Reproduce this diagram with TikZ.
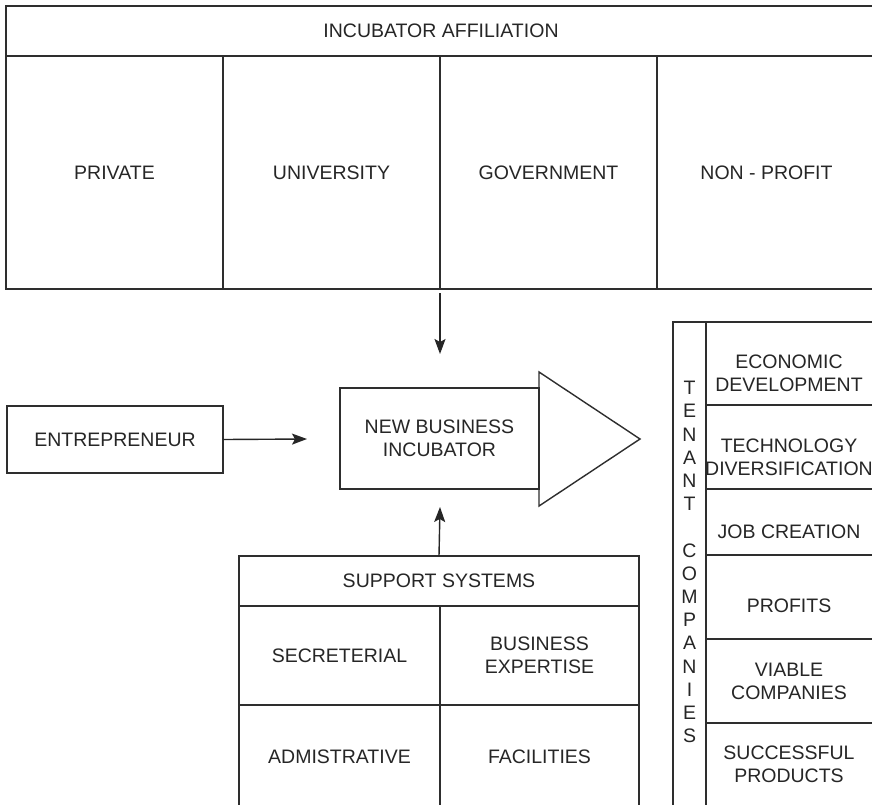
\documentclass[tikz,border=0pt]{standalone}
\usepackage{fontspec}
\setmainfont{Liberation Sans}
\usetikzlibrary{arrows.meta}
\newcommand{\lblfont}{\fontsize{19.5}{23.2}\selectfont}
% \cellbox{name}{x1}{y1}{x2}{y2}{text}: a framed cell given by its corners
\newcommand{\cellbox}[6]{%
  \node[cell, minimum width={(#4-#2)*1pt}, minimum height={(#5-#3)*1pt}]
    (#1) at ({(#2+#4)/2},{(#3+#5)/2}) {#6};}
\begin{document}
\begin{tikzpicture}[x=1pt,y=-1pt,
  line join=miter,
  cell/.style={draw=black!82, line width=1.4pt, rectangle, inner sep=0pt,
    outer sep=0pt, align=center, font=\lblfont, text=black!85},
  txt/.style={inner sep=0pt, align=center, font=\lblfont, text=black!85},
  arr/.style={draw=black!85, line width=1.4pt,
    -{Stealth[length=15pt,width=11pt,inset=3pt]}}]
\useasboundingbox (0,0) rectangle (872,804);
\fill[white] (0,0) rectangle (872,804);

% affiliation table
\cellbox{aff}{6}{6}{876}{56}{INCUBATOR AFFILIATION}
\cellbox{priv}{6}{56}{223}{289}{PRIVATE}
\cellbox{univ}{223}{56}{440}{289}{UNIVERSITY}
\cellbox{gov}{440}{56}{657}{289}{GOVERNMENT}
\cellbox{nonp}{657}{56}{876}{289}{NON - PROFIT}

% entrepreneur
\cellbox{ent}{7}{406}{223}{473}{ENTREPRENEUR}

% incubator: box with an arrow head
\cellbox{inc}{340}{388}{539}{489}{NEW BUSINESS\\INCUBATOR}
\draw[draw=black!82, line width=1.4pt, line join=miter]
  (inc.north east) -- (539,372) -- (640,439) -- (539,506) -- (inc.south east);

% support systems table
\cellbox{sup}{239}{556}{639}{606}{SUPPORT SYSTEMS}
\cellbox{sec}{239}{606}{440}{705}{SECRETERIAL}
\cellbox{bus}{440}{606}{639}{705}{BUSINESS\\EXPERTISE}
\cellbox{adm}{239}{705}{440}{808}{ADMISTRATIVE}
\cellbox{fac}{440}{705}{639}{808}{FACILITIES}

% tenant companies column
\cellbox{ten}{673}{322}{706}{808}{}
\node[txt] (tenT) at (689.5,562)
  {T\\E\\N\\A\\N\\T\\[23.2pt]C\\O\\M\\P\\A\\N\\I\\E\\S};
\cellbox{r1}{706}{322}{876}{405}{}
\cellbox{r2}{706}{405}{876}{489}{}
\cellbox{r3}{706}{489}{876}{555}{}
\cellbox{r4}{706}{555}{876}{639}{}
\cellbox{r5}{706}{639}{876}{723}{}
\cellbox{r6}{706}{723}{876}{808}{}
\node[txt] (r1T) at (789,373) {ECONOMIC\\DEVELOPMENT};
\node[txt] (r2T) at (789,457) {TECHNOLOGY\\DIVERSIFICATION};
\node[txt] (r3T) at (789,532) {JOB CREATION};
\node[txt] (r4T) at (789,606) {PROFITS};
\node[txt] (r5T) at (789,681) {VIABLE\\COMPANIES};
\node[txt] (r6T) at (789,764) {SUCCESSFUL\\PRODUCTS};

% connectors
\coordinate (inTop) at (440,354);
\coordinate (inLeft) at (307,439);
\coordinate (inBot) at (440,507);
\draw[arr] ([yshift=-4pt]gov.south west) -- (inTop);
\draw[arr] (ent.east) -- (inLeft);
\draw[arr] (sup.north) -- (inBot);
\end{tikzpicture}
\end{document}
